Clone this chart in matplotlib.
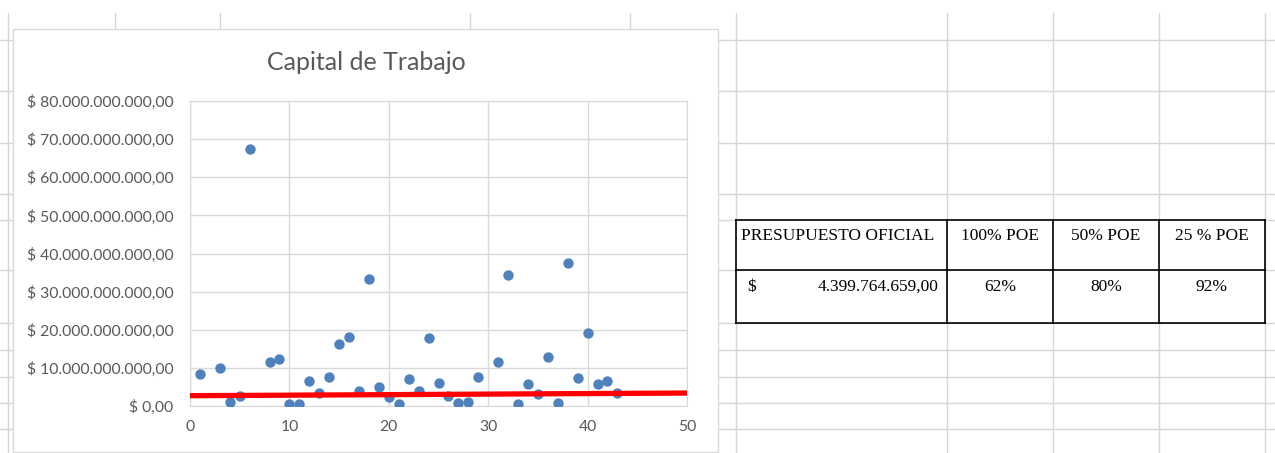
import matplotlib
matplotlib.use("Agg")
import matplotlib.pyplot as plt
from matplotlib.patches import Rectangle
import numpy as np

# Datos del gráfico (capital de trabajo, en pesos)
oferentes = [1, 3, 4, 5, 6, 8, 9, 10, 11, 12, 13, 14, 15, 16, 17, 18, 19, 20, 21, 22,
             23, 24, 25, 26, 27, 28, 29, 31, 32, 33, 34, 35, 36, 37, 38, 39, 40, 41, 42, 43]
capital_mm = [8.3, 10.0, 1.1, 2.7, 67.4, 11.5, 12.4, 0.4, 0.4, 6.6,
              3.5, 7.7, 16.2, 18.1, 3.9, 33.2, 5.1, 2.4, 0.4, 7.0,
              4.0, 17.8, 6.1, 2.6, 0.9, 1.1, 7.7, 11.5, 34.4, 0.4,
              5.8, 3.1, 12.8, 0.9, 37.4, 7.3, 19.2, 5.8, 6.6, 3.5]
capital = np.array(capital_mm) * 1e9

# Línea roja (tendencia)
linea_x = [0, 50]
linea_y = [2.7e9, 3.4e9]

# Tabla de la derecha
tabla_encabezado = ["PRESUPUESTO OFICIAL", "100% POE", "50% POE", "25 % POE"]
tabla_valores = ["4.399.764.659,00", "62%", "80%", "92%"]

W, H = 1275, 453
fig = plt.figure(figsize=(W / 100, H / 100), dpi=100)

# Fondo tipo planilla
fondo = fig.add_axes([0, 0, 1, 1])
fondo.set_xlim(0, W)
fondo.set_ylim(H, 0)
fondo.axis("off")
gris_celda = "#d6d6d6"
for yy in [40, 91, 143, 194, 220, 270, 323, 350, 377, 403, 429]:
    fondo.plot([0, W], [yy, yy], color=gris_celda, lw=1, zorder=1)
for xx in [8, 115, 220, 470, 630, 736, 947, 1053, 1159, 1265]:
    fondo.plot([xx, xx], [13, H], color=gris_celda, lw=1, zorder=1)

# Recuadro del gráfico
fondo.add_patch(Rectangle((13, 29), 705, 423, facecolor="white", edgecolor="#d9d9d9", lw=1, zorder=2))
fondo.text(366, 62, "Capital de Trabajo", fontsize=18, color="#595959", family="Lato",
           ha="center", va="center", zorder=3)

# Tabla
cols = [736, 947, 1053, 1159, 1265]
filas = [220, 270, 323]
fondo.add_patch(Rectangle((cols[0], filas[0]), cols[-1] - cols[0], filas[-1] - filas[0],
                          facecolor="white", edgecolor="none", zorder=2))
for yy in filas:
    fondo.plot([cols[0], cols[-1]], [yy, yy], color="black", lw=1.2, zorder=3)
for xx in cols:
    fondo.plot([xx, xx], [filas[0], filas[-1]], color="black", lw=1.2, zorder=3)
fuente_tabla = dict(family="Liberation Serif", fontsize=12.5, color="black", va="center", zorder=4)
fondo.text(cols[0] + 5, 236, tabla_encabezado[0], ha="left", **fuente_tabla)
for i in range(1, 4):
    fondo.text((cols[i] + cols[i + 1]) / 2, 236, tabla_encabezado[i], ha="center", **fuente_tabla)
fondo.text(cols[0] + 11, 287, "$", ha="left", **fuente_tabla)
fondo.text(cols[1] - 8, 287, tabla_valores[0], ha="right", **fuente_tabla)
for i in range(1, 4):
    fondo.text((cols[i] + cols[i + 1]) / 2, 287, tabla_valores[i], ha="center", **fuente_tabla)

# Gráfico de dispersión
ax = fig.add_axes([190 / W, 1 - 406 / H, (687 - 190) / W, (406 - 101) / H])
ax.set_zorder(5)
ax.patch.set_alpha(0)
ax.scatter(oferentes, capital, s=56, color="#4f81bd", zorder=3, linewidths=0)
ax.plot(linea_x, linea_y, color="#ff0000", lw=3.8, zorder=4, clip_on=False, solid_capstyle="butt")
ax.set_xlim(0, 50)
ax.set_ylim(0, 80e9)
ax.set_xticks(np.arange(0, 51, 10))
ax.set_yticks(np.arange(0, 80e9 + 1, 10e9))


def formato_pesos(v, pos=None):
    s = "{:,.2f}".format(v)
    s = s.replace(",", "X").replace(".", ",").replace("X", ".")
    return "$ " + s


ax.yaxis.set_major_formatter(plt.FuncFormatter(formato_pesos))
ax.grid(True, color="#d9d9d9", lw=1)
ax.set_axisbelow(True)
for sp in ax.spines.values():
    sp.set_color("#d9d9d9")
ax.tick_params(length=0, labelsize=11.3, labelcolor="#595959")
ax.tick_params(axis="y", pad=12)
ax.tick_params(axis="x", pad=10)
for lbl in ax.get_xticklabels() + ax.get_yticklabels():
    lbl.set_family("Lato")

fig.savefig("out.png", dpi=100)
